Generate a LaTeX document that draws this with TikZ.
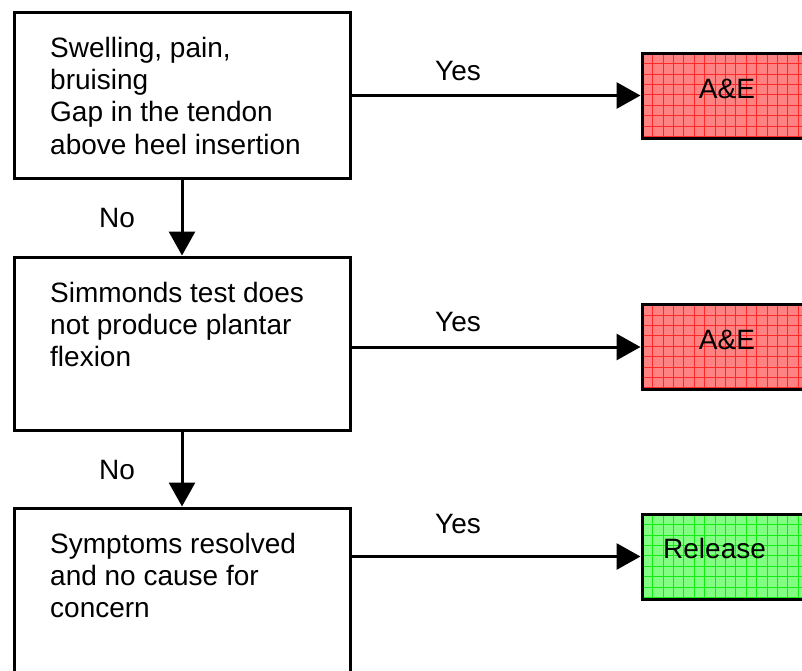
\documentclass[tikz,border=0pt]{standalone}
\usepackage{fontspec}
\setmainfont{Liberation Sans}
\usetikzlibrary{arrows.meta}
\definecolor{aefill}{RGB}{255,130,130}
\definecolor{aegrid}{RGB}{255,40,40}
\definecolor{relfill}{RGB}{130,255,130}
\definecolor{relgrid}{RGB}{20,235,20}
\tikzset{
  box/.style={draw, line width=3pt, rectangle, inner sep=0pt, minimum width=336pt},
  txt/.style={font=\fontsize{28}{32.2}\selectfont, align=left, anchor=north west, inner sep=0pt},
  lbl/.style={font=\fontsize{28}{32}\selectfont, anchor=base, inner sep=0pt},
  conn/.style={line width=3pt, -{Triangle[length=24pt,width=26pt]}},
  gridfill/.style n args={2}{draw, line width=3pt, rectangle, inner sep=0pt,
    minimum width=260pt, minimum height=85pt, fill=#1,
    path picture={
      \foreach \i in {1,...,25}
        \draw[#2, line width=0.45pt]
          ([xshift=\i*10.4pt]path picture bounding box.north west) --
          ([xshift=\i*10.4pt]path picture bounding box.south west);
      \foreach \j in {1,...,8}
        \draw[#2, line width=0.45pt]
          ([yshift=-\j*10.4pt]path picture bounding box.north west) --
          ([yshift=-\j*10.4pt]path picture bounding box.north east);
    }},
  redbox/.style={gridfill={aefill}{aegrid}},
  greenbox/.style={gridfill={relfill}{relgrid}}
}
\begin{document}
\begin{tikzpicture}[x=1pt,y=-1pt]
\useasboundingbox (0,0) rectangle (802,670);
\clip (0,0) rectangle (802,670);

% decision boxes
\node[box, minimum height=166pt] (b1) at (182,95) {};
\node[box, minimum height=173pt] (b2) at (182,343.5) {};
\node[box, minimum height=180pt] (b3) at (182,598) {};

\node[txt] (t1) at (50,37) {Swelling, pain,\\bruising\\Gap in the tendon\\above heel insertion};
\node[txt] (t2) at (50,282) {Simmonds test does\\not produce plantar\\flexion};
\node[txt] (t3) at (50,533) {Symptoms resolved\\and no cause for\\concern};

% outcome boxes
\node[redbox] (ae1) at (772,95.5) {};
\node[redbox] (ae2) at (772,347) {};
\node[greenbox] (rel) at (772,556.5) {};

\node[lbl] (ae1t) at (727,98) {A\&E};
\node[lbl] (ae2t) at (727,349) {A\&E};
\node[lbl, anchor=base west] (relt) at (663,558) {Release};

% connectors
\draw[conn] (b1.east |- ae1.west) -- (ae1.west);
\draw[conn] (b2.east |- ae2.west) -- (ae2.west);
\draw[conn] (b3.east |- rel.west) -- (rel.west);
\draw[conn] (b1.south) -- (b2.north);
\draw[conn] (b2.south) -- (b3.north);

% labels
\node[lbl] (y1) at (458,80) {Yes};
\node[lbl] (y2) at (458,331) {Yes};
\node[lbl] (y3) at (458,533) {Yes};
\node[lbl] (n1) at (117,227) {No};
\node[lbl] (n2) at (117,479) {No};
\end{tikzpicture}
\end{document}
